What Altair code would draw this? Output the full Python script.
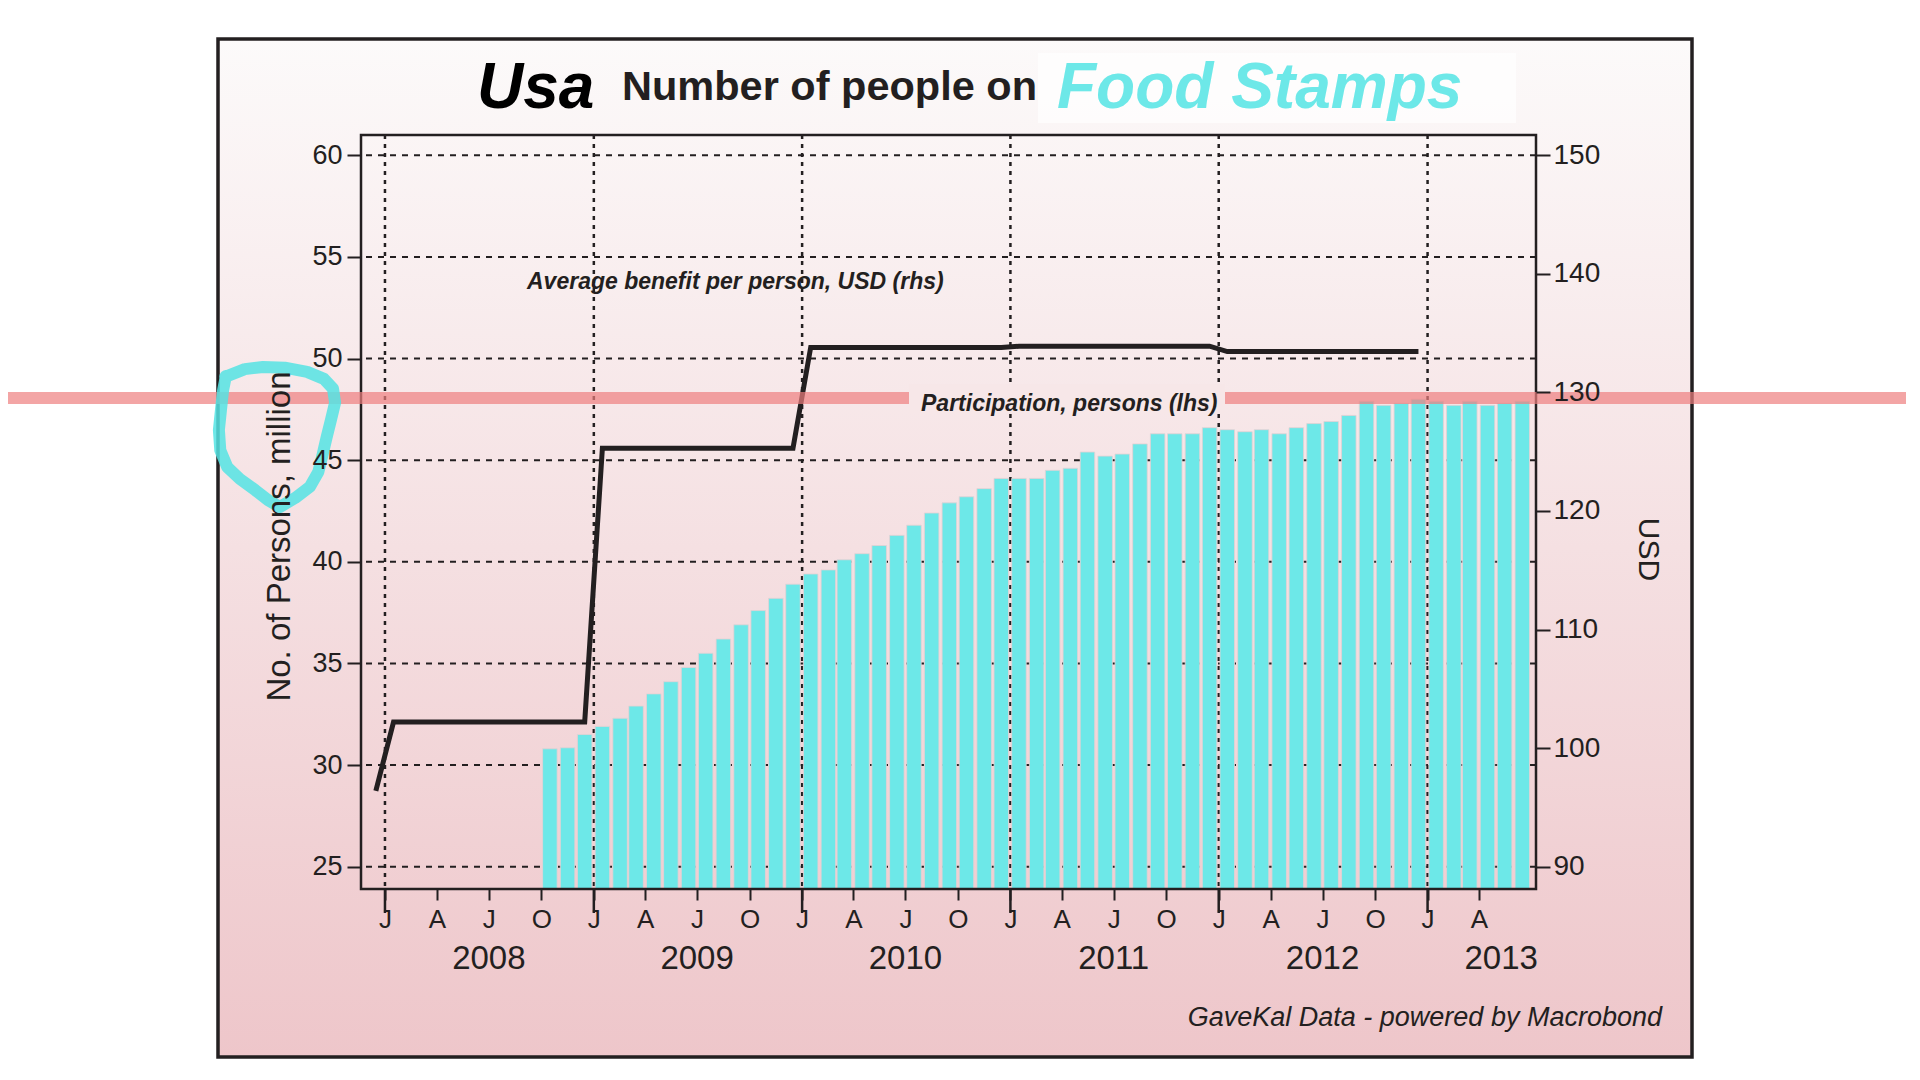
import altair as alt
import pandas as pd

# SNAP participation, million persons (lhs), monthly from Oct 2008 to Jun 2013
bar_start = "2008-10-01"
participation = [
    30.8, 30.85, 31.5,                                                        # 2008
    31.9, 32.3, 32.9, 33.5, 34.1, 34.8, 35.5, 36.2, 36.9, 37.6, 38.2, 38.9,  # 2009
    39.4, 39.6, 40.1, 40.4, 40.8, 41.3, 41.8, 42.4, 42.9, 43.2, 43.6, 44.1,  # 2010
    44.1, 44.1, 44.5, 44.6, 45.4, 45.2, 45.3, 45.8, 46.3, 46.3, 46.3, 46.6,  # 2011
    46.5, 46.4, 46.5, 46.3, 46.6, 46.8, 46.9, 47.2, 47.9, 47.7, 47.8, 48.0,  # 2012
    47.9, 47.7, 47.9, 47.7, 47.8, 47.9,                                       # 2013
]

# average benefit per person, USD (rhs), monthly from Dec 2007 to Dec 2012
line_start = "2007-12-01"
benefit = [
    96.4,                                                                      # 2007
    102.2, 102.2, 102.2, 102.2, 102.2, 102.2, 102.2, 102.2, 102.2, 102.2, 102.2, 102.2,  # 2008
    125.3, 125.3, 125.3, 125.3, 125.3, 125.3, 125.3, 125.3, 125.3, 125.3, 125.3, 125.3,  # 2009
    133.8, 133.8, 133.8, 133.8, 133.8, 133.8, 133.8, 133.8, 133.8, 133.8, 133.8, 133.8,  # 2010
    133.9, 133.9, 133.9, 133.9, 133.9, 133.9, 133.9, 133.9, 133.9, 133.9, 133.9, 133.9,  # 2011
    133.45, 133.45, 133.45, 133.45, 133.45, 133.45, 133.45, 133.45, 133.45, 133.45, 133.45, 133.45,  # 2012
]

left_ticks = [25, 30, 35, 40, 45, 50, 55, 60]
right_ticks = [90, 100, 110, 120, 130, 140, 150]
month_letters = ["J", "F", "M", "A", "M", "J", "J", "A", "S", "O", "N", "D"]
year_starts = ["2008-01-01", "2009-01-01", "2010-01-01", "2011-01-01", "2012-01-01", "2013-01-01"]
year_labels = ["2008", "2009", "2010", "2011", "2012", "2013"]
year_label_dates = ["2008-07-01", "2009-07-01", "2010-07-01", "2011-07-01", "2012-07-01", "2013-05-10"]

title_usa = "Usa"
title_mid = "Number of people on"
title_topic = "Food Stamps"
note_rhs = "Average benefit per person, USD (rhs)"
note_lhs = "Participation, persons (lhs)"
source = "GaveKal Data - powered by Macrobond"

W, H = 1175, 754
INK = "#231f20"
CYAN = "#6de8e8"
FONT = "Liberation Sans, Arial, sans-serif"

bars_df = pd.DataFrame({
    "date": pd.date_range(bar_start, periods=len(participation), freq="MS") + pd.Timedelta(days=15),
    "persons": participation,
})
line_df = pd.DataFrame({
    "date": pd.date_range(line_start, periods=len(benefit), freq="MS") + pd.Timedelta(days=15),
    "usd": benefit,
})
jan_df = pd.DataFrame({"date": pd.to_datetime(year_starts)})
years_df = pd.DataFrame({"date": pd.to_datetime(year_label_dates), "label": year_labels})
grid_df = pd.DataFrame({"v": left_ticks})
one = pd.DataFrame({"a": [0]})

lo, hi = 23.9, 61.0
xscale = alt.Scale(domain=[alt.DateTime(year=2007, month=11, date=20),
                           alt.DateTime(year=2013, month=7, date=10)], padding=0)
lscale = alt.Scale(domain=[lo, hi], nice=False, zero=False)
# right axis is tied to the left one: 25 <-> 90 and 60 <-> 150
rscale = alt.Scale(domain=[90 + (lo - 25) * 60 / 35, 90 + (hi - 25) * 60 / 35], nice=False, zero=False)

quarters = [alt.DateTime(year=y, month=m, date=1)
            for y in range(2008, 2014) for m in (1, 4, 7, 10) if (y, m) <= (2013, 4)]
letters = "[" + ",".join("'%s'" % s for s in month_letters) + "]"

xaxis = alt.Axis(values=quarters, labelExpr=letters + "[month(datum.value)]", title=None,
                 grid=False, domain=False, tickSize=11, tickWidth=2, tickColor=INK,
                 labelFont=FONT, labelFontSize=26, labelColor=INK, labelPadding=6, zindex=1)
laxis = alt.Axis(values=left_ticks, title="No. of Persons, million", grid=False, domain=False,
                 tickSize=14, tickWidth=2, tickColor=INK, labelFont=FONT, labelFontSize=27,
                 labelColor=INK, labelPadding=5, titleFont=FONT, titleFontSize=33,
                 titleFontWeight="normal", titleColor=INK, titleAngle=270, titleX=-82, titleY=401,
                 titleAlign="center", titleBaseline="middle", zindex=1)
raxis = alt.Axis(values=right_ticks, orient="right", title="USD", grid=False, domain=False,
                 tickSize=14, tickWidth=2, tickColor=INK, labelFont=FONT, labelFontSize=28,
                 labelColor=INK, labelPadding=3, titleFont=FONT, titleFontSize=30,
                 titleFontWeight="normal", titleColor=INK, titleAngle=90, titleX=111, titleY=414,
                 titleAlign="center", titleBaseline="middle", zindex=1)

bg = alt.Gradient(gradient="linear", x1=0, x2=0, y1=0, y2=1,
                  stops=[alt.GradientStop(offset=0, color="#fcfafa"),
                         alt.GradientStop(offset=1, color="#eec6ca")])

frame = alt.Chart(one).mark_rect(fill=bg, stroke=INK, strokeWidth=3.5).encode(
    x=alt.value(-143), x2=alt.value(1331), y=alt.value(-96), y2=alt.value(922))
title_box = alt.Chart(one).mark_rect(fill="white", opacity=0.7).encode(
    x=alt.value(677), x2=alt.value(1155), y=alt.value(-82), y2=alt.value(-12))

vgrid = alt.Chart(jan_df).mark_rule(color=INK, strokeWidth=2.5, strokeDash=[4, 5]).encode(
    x=alt.X("date:T", scale=xscale, axis=xaxis))
hgrid = alt.Chart(grid_df).mark_rule(color=INK, strokeWidth=2, strokeDash=[6, 6]).encode(
    y=alt.Y("v:Q", scale=lscale, axis=laxis))
bars = alt.Chart(bars_df).mark_bar(color=CYAN, size=14.5, stroke="#e4d0d3", strokeWidth=0.8,
                                   clip=True).encode(
    x=alt.X("date:T", scale=xscale, axis=xaxis),
    y=alt.Y("persons:Q", scale=lscale, axis=laxis))
left = alt.layer(hgrid, bars)

line = alt.Chart(line_df).mark_line(color=INK, strokeWidth=5).encode(
    x=alt.X("date:T", scale=xscale, axis=xaxis),
    y=alt.Y("usd:Q", scale=rscale, axis=raxis))

border = alt.Chart(one).mark_rect(fillOpacity=0, stroke=INK, strokeWidth=2.5).encode(
    x=alt.value(0), x2=alt.value(W), y=alt.value(0), y2=alt.value(H))
long_ticks = alt.Chart(jan_df).mark_rule(color=INK, strokeWidth=2.5).encode(
    x=alt.X("date:T", scale=xscale, axis=xaxis), y=alt.value(H), y2=alt.value(H + 24))
years = alt.Chart(years_df).mark_text(font=FONT, fontSize=33, color=INK, baseline="middle").encode(
    x=alt.X("date:T", scale=xscale, axis=xaxis), y=alt.value(H + 70), text="label:N")

rhs_note = alt.Chart(one).mark_text(text=note_rhs, font=FONT, fontSize=23, fontWeight="bold",
                                    fontStyle="italic", color=INK, align="left",
                                    baseline="alphabetic").encode(
    x=alt.value(166), y=alt.value(154))
pink = alt.Chart(one).mark_rule(color="#ee7f7f", opacity=0.7, strokeWidth=12).encode(
    x=alt.value(-353), x2=alt.value(W + 370), y=alt.value(263))
lhs_box = alt.Chart(one).mark_rect(color="#f7e7e8").encode(
    x=alt.value(548), x2=alt.value(864), y=alt.value(249), y2=alt.value(278))
lhs_note = alt.Chart(one).mark_text(text=note_lhs, font=FONT, fontSize=23, fontWeight="bold",
                                    fontStyle="italic", color=INK, align="left",
                                    baseline="alphabetic").encode(
    x=alt.value(560), y=alt.value(276))

loop = ("M-0.74,-0.86 L-0.46,-0.97 L-0.2,-1 L0.11,-0.99 L0.43,-0.93 L0.67,-0.83 L0.8,-0.69 "
        "L0.83,-0.49 L0.77,-0.24 L0.71,0 L0.64,0.3 L0.59,0.5 L0.47,0.71 L0.26,0.87 L0.04,1 "
        "L-0.13,0.9 L-0.31,0.76 L-0.53,0.6 L-0.71,0.43 L-0.81,0.19 L-0.83,-0.1 L-0.8,-0.39 "
        "L-0.77,-0.67 L-0.73,-0.87 Z")
circle = alt.Chart(one).mark_point(shape=loop, size=19600, filled=False, color="#55e4e4",
                                   strokeWidth=12, opacity=0.85, strokeJoin="round").encode(
    x=alt.value(-84), y=alt.value(302))

t_usa = alt.Chart(one).mark_text(text=title_usa, font=FONT, fontSize=64, fontWeight="bold",
                                 fontStyle="italic", color="black", align="left",
                                 baseline="alphabetic").encode(
    x=alt.value(116), y=alt.value(-27))
t_mid = alt.Chart(one).mark_text(text=title_mid, font=FONT, fontSize=41.5, fontWeight="bold",
                                 color=INK, align="left", baseline="alphabetic").encode(
    x=alt.value(261), y=alt.value(-35))
t_topic = alt.Chart(one).mark_text(text=title_topic, font=FONT, fontSize=64, fontWeight="bold",
                                   fontStyle="italic", color=CYAN, align="left",
                                   baseline="alphabetic").encode(
    x=alt.value(696), y=alt.value(-27))
footer = alt.Chart(one).mark_text(text=source, font=FONT, fontSize=27, fontStyle="italic",
                                  color=INK, align="right", baseline="alphabetic").encode(
    x=alt.value(1301), y=alt.value(891))

chart = alt.layer(
    frame, title_box, vgrid, left, line, border, long_ticks, years,
    rhs_note, pink, lhs_box, lhs_note, circle, t_usa, t_mid, t_topic, footer,
).resolve_scale(y="independent").properties(
    width=W, height=H,
    padding={"left": 353, "top": 127, "right": 370, "bottom": 183},
    autosize=alt.AutoSizeParams(type="none"),
    background="white",
).configure_view(stroke=None)

chart.save("out.html", embed_options={"renderer": "svg", "actions": False})
